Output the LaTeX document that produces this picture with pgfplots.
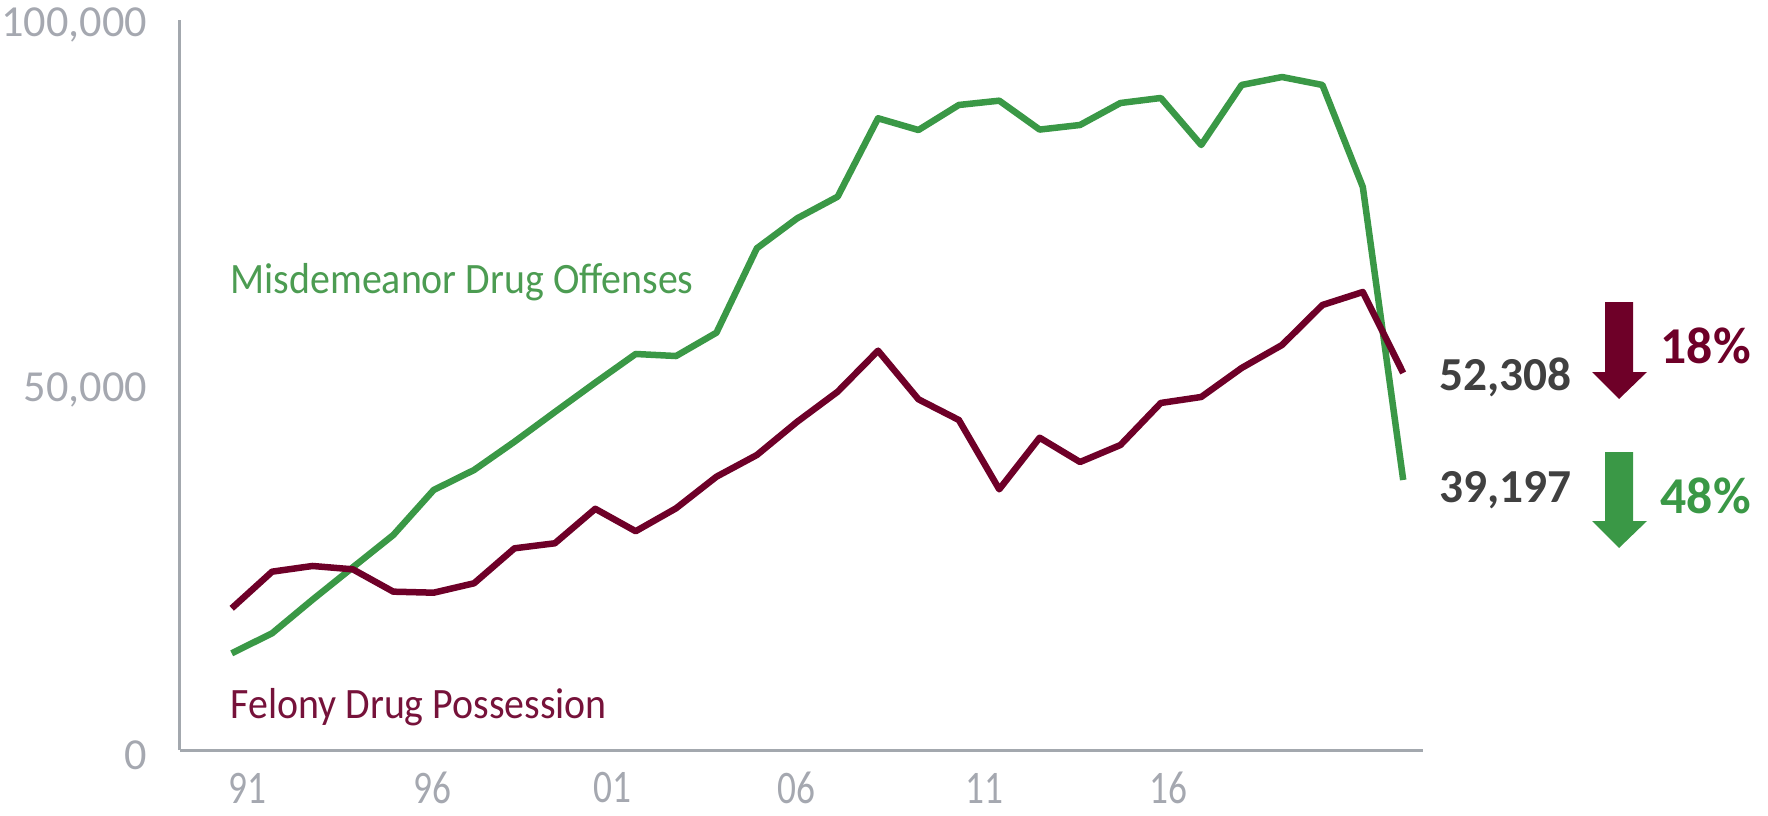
\documentclass[border=0pt]{standalone}
\usepackage{fontspec}
\setmainfont{Carlito}
\newfontfamily\condfont{Carlito}[FakeStretch=0.8]
\newfontfamily\labfont{Carlito}[FakeStretch=0.92]
\usepackage{pgfplots}
\pgfplotsset{compat=1.18}
\definecolor{misgreen}{RGB}{58,152,70}
\definecolor{felred}{RGB}{110,0,40}
\definecolor{misgreentxt}{RGB}{76,156,82}
\definecolor{felredtxt}{RGB}{118,18,58}
\definecolor{axisgray}{RGB}{163,168,174}
\definecolor{tickgray}{RGB}{165,168,176}
\definecolor{numgray}{RGB}{64,64,64}
\begin{document}
\begin{tikzpicture}
\useasboundingbox (-54pt,-19.5pt) rectangle (476.4pt,225pt);
\begin{axis}[
  at={(0pt,0pt)}, anchor=south west,
  scale only axis, width=372.9pt, height=219pt,
  xmin=1989.72, xmax=2020.49, ymin=0, ymax=100000,
  axis x line*=bottom, axis y line*=left,
  axis line style={draw=axisgray, line width=0.9pt, -},
  major tick length=0pt,
  scaled y ticks=false, scaled x ticks=false,
  xtick={1991.40,1995.96,2000.42,2004.97,2009.63,2014.18},
  xticklabels={91,96,01,06,11,16},
  ytick={0,50000,100000},
  yticklabels={0,{50,000},{100,000}},
  /pgf/number format/assume math mode=true,
  xticklabel style={anchor=center, inner sep=0pt, yshift=-11.4pt, text=tickgray, font=\condfont\fontsize{14}{16}\selectfont},
  yticklabel style={anchor=east, inner sep=0pt, xshift=-9.6pt, yshift=-1.5pt, text=tickgray, font=\fontsize{13.3}{16}\selectfont},
  clip=false,
]
\addplot[misgreen, line width=1.95pt, line join=round] coordinates {
(1991,13250) (1992,15990) (1993,20590) (1994,25030) (1995,29450)
(1996,35620) (1997,38360) (1998,42230) (1999,46300) (2000,50320)
(2001,54250) (2002,53970) (2003,57170) (2004,68730) (2005,72840)
(2006,75800) (2007,86540) (2008,84930) (2009,88360) (2010,88950)
(2011,84990) (2012,85620) (2013,88630) (2014,89320) (2015,82880)
(2016,91100) (2017,92190) (2018,91100) (2019,77130) (2020,36990)
};
\addplot[felred, line width=1.95pt, line join=round] coordinates {
(1991,19410) (1992,24430) (1993,25210) (1994,24750) (1995,21690)
(1996,21550) (1997,22840) (1998,27630) (1999,28320) (2000,33040)
(2001,29970) (2002,33110) (2003,37440) (2004,40410) (2005,44970)
(2006,49080) (2007,54700) (2008,48040) (2009,45210) (2010,35710)
(2011,42780) (2012,39450) (2013,41780) (2014,47540) (2015,48360)
(2016,52330) (2017,55480) (2018,60960) (2019,62740) (2020,51650)
};
\end{axis}
% series labels
\node[anchor=base west, inner sep=0pt, text=misgreentxt, font=\labfont\fontsize{13}{15}\selectfont] at (15pt,137.1pt) {Misdemeanor Drug Offenses};
\node[anchor=base west, inner sep=0pt, text=felredtxt, font=\labfont\fontsize{13}{15}\selectfont] at (15pt,9.6pt) {Felony Drug Possession};
% end values
\node[anchor=base west, inner sep=0pt, text=numgray, font=\bfseries\fontsize{14.2}{16}\selectfont] at (377.7pt,108pt) {52,308};
\node[anchor=base west, inner sep=0pt, text=numgray, font=\bfseries\fontsize{14.2}{16}\selectfont] at (377.7pt,74.4pt) {39,197};
% arrows
\fill[felred] (427.5pt,134.4pt) -- (435.9pt,134.4pt) -- (435.9pt,113.4pt) -- (440.1pt,113.4pt) -- (431.7pt,105.3pt) -- (423.6pt,113.4pt) -- (427.5pt,113.4pt) -- cycle;
\fill[misgreen] (427.5pt,89.4pt) -- (435.9pt,89.4pt) -- (435.9pt,68.7pt) -- (440.1pt,68.7pt) -- (431.7pt,60.6pt) -- (423.6pt,68.7pt) -- (427.5pt,68.7pt) -- cycle;
% percentages
\node[anchor=base west, inner sep=0pt, text=felred, font=\bfseries\fontsize{15.5}{18}\selectfont] at (444pt,116.1pt) {18\%};
\node[anchor=base west, inner sep=0pt, text=misgreen, font=\bfseries\fontsize{15.5}{18}\selectfont] at (444pt,71.1pt) {48\%};
\end{tikzpicture}
\end{document}
